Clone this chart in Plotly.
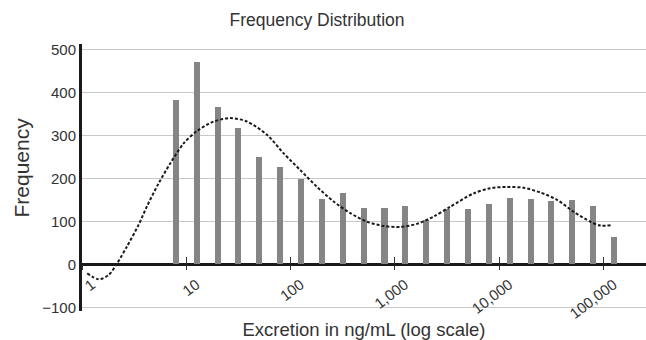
import plotly.graph_objects as go

# ---- data ----
bar_log10x = [0.9, 1.1, 1.3, 1.5, 1.7, 1.9, 2.1, 2.3, 2.5, 2.7, 2.9,
              3.1, 3.3, 3.5, 3.7, 3.9, 4.1, 4.3, 4.5, 4.7, 4.9, 5.1]
bar_counts = [382, 470, 366, 318, 250, 227, 198, 153, 165, 130, 130,
              136, 103, 128, 128, 141, 155, 152, 148, 150, 136, 64]

curve_log10x = [0.05, 0.16, 0.255, 0.336, 0.43, 0.543, 0.623, 0.734, 0.847,
                0.974, 1.103, 1.262, 1.422, 1.582, 1.774, 1.933, 2.093, 2.253,
                2.412, 2.572, 2.733, 2.892, 3.052, 3.212, 3.371, 3.531, 3.755,
                3.915, 4.075, 4.234, 4.394, 4.554, 4.714, 4.874, 4.97, 5.08]
curve_values = [-21, -35, -25, 2, 41, 92, 135, 188, 235,
                281, 310, 332, 340, 332, 301, 258, 219, 180,
                146, 119, 99, 89, 87, 94, 111, 134, 165,
                177, 180, 178, 167, 150, 122, 99, 90, 91]

x_tickvals = [0, 1, 2, 3, 4, 5]
x_ticktext = ["1", "10", "100", "1,000", "10,000", "100,000"]
y_tickvals = [-100, 0, 100, 200, 300, 400, 500]

Y_RANGE = [-108.6, 512.3]
X_RANGE = [0, 5.407]
zero_pos = (0 - Y_RANGE[0]) / (Y_RANGE[1] - Y_RANGE[0])

FONT = "Liberation Sans, Arial, Helvetica, sans-serif"
TXT = "#333333"

fig = go.Figure()
fig.add_trace(go.Bar(x=bar_log10x, y=bar_counts, width=0.058,
                     marker=dict(color="#858585", line=dict(width=0)),
                     showlegend=False, hoverinfo="x+y"))
fig.add_trace(go.Scatter(x=curve_log10x, y=curve_values, mode="lines",
                         line=dict(color="#1a1a1a", width=2, dash="3px,2px",
                                   shape="spline", smoothing=0.8),
                         showlegend=False))
# helper trace for the overlay axis carrying the upward tick marks
fig.add_trace(go.Scatter(x=[None], y=[None], xaxis="x2", yaxis="y",
                         showlegend=False, hoverinfo="skip"))

fig.update_layout(
    width=646, height=340,
    margin=dict(l=82, r=0, t=44, b=29, autoexpand=False),
    paper_bgcolor="white", plot_bgcolor="white",
    font=dict(family=FONT, color=TXT),
    title=dict(text="Frequency Distribution", x=317 / 646, xanchor="center",
               y=1 - 20 / 340, yanchor="middle", font=dict(size=17.5, color=TXT)),
    bargap=0,
    xaxis=dict(range=X_RANGE, anchor="free", position=zero_pos, automargin=False,
               showline=False, showgrid=False, zeroline=False,
               tickmode="array", tickvals=x_tickvals, ticktext=x_ticktext,
               ticks="outside", ticklen=5, tickwidth=1, tickcolor="#333333",
               tickangle=-37, ticklabelshift=10,
               tickfont=dict(size=15, color=TXT),
               title=dict(text="Excretion in ng/mL (log scale)",
                          font=dict(size=18.5, color=TXT), standoff=8)),
    xaxis2=dict(range=X_RANGE, overlaying="x", anchor="free", position=zero_pos,
                automargin=False,
                showline=False, showgrid=False, zeroline=False,
                tickmode="array", tickvals=x_tickvals,
                ticks="inside", ticklen=7, tickwidth=1, tickcolor="#333333",
                showticklabels=False),
    yaxis=dict(range=Y_RANGE, tickmode="array", tickvals=y_tickvals,
               automargin=False,
               showgrid=True, gridcolor="#c8c8c8", gridwidth=1.3,
               zeroline=True, zerolinecolor="#1a1a1a", zerolinewidth=3,
               showline=True, linecolor="#1a1a1a", linewidth=3,
               ticks="", tickfont=dict(size=15, color=TXT)),
    annotations=[dict(text="Frequency", textangle=-90, showarrow=False,
                      xref="paper", yref="paper",
                      x=(20.5 - 82) / 564, y=(311 - 168) / 267,
                      xanchor="center", yanchor="middle",
                      font=dict(size=21, color=TXT))],
)

fig.write_html("out.html",
               config={"displayModeBar": False},
               post_script="document.body.style.margin='0';"
                           "document.body.style.overflow='hidden';")
